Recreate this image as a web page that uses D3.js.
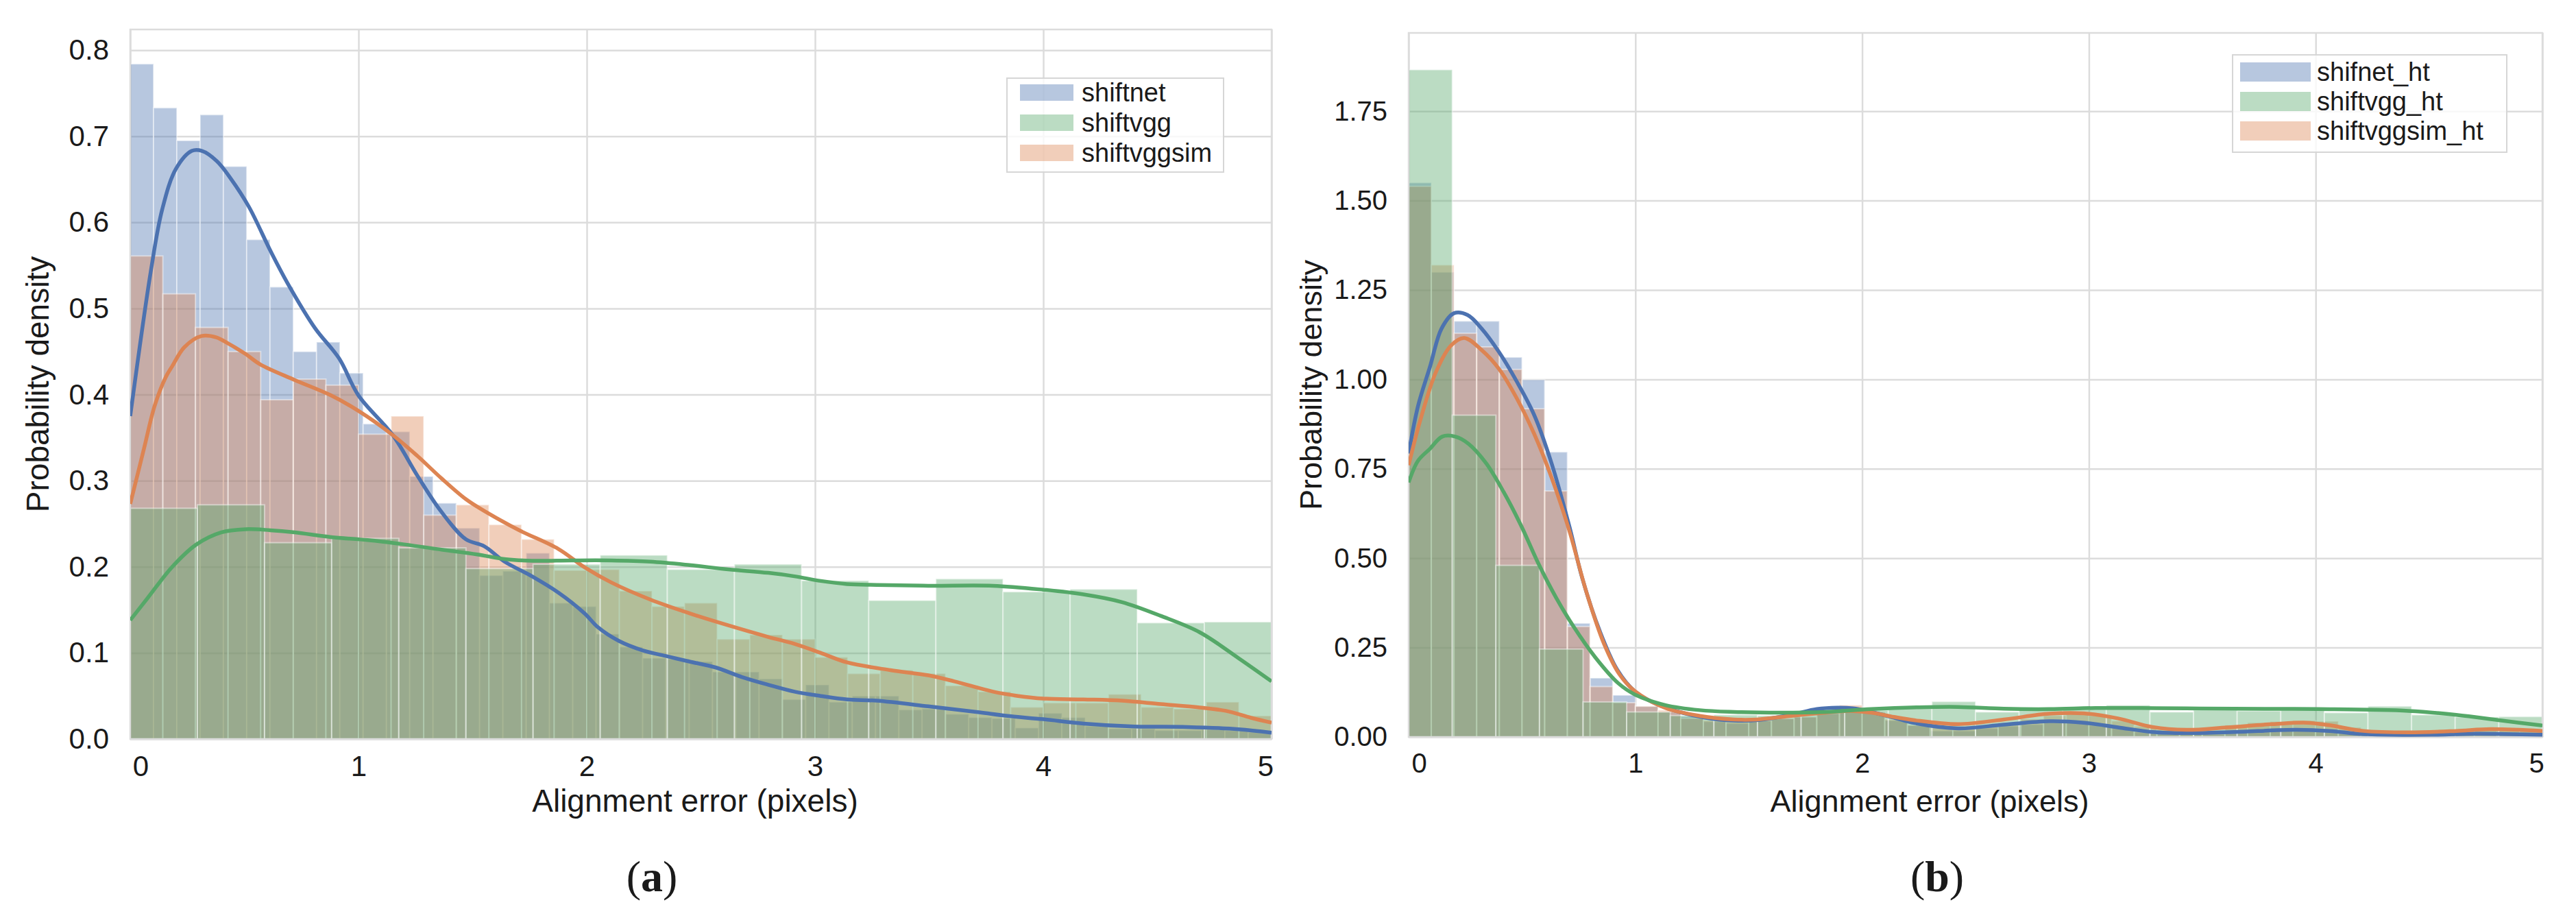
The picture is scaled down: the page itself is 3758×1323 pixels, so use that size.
<!DOCTYPE html>
<html>
<head>
<meta charset="utf-8">
<script src="https://cdn.jsdelivr.net/npm/d3@7"></script>
<style>
body { margin: 0; background: #fff; }
text { font-family: "Liberation Sans", Arial, sans-serif; fill: #1a1a1a; }
.grid line { stroke: #dcdcdc; stroke-width: 2.5; }
.grid path { display: none; }
.ticks path, .ticks line { display: none; }
</style>
</head>
<body>
<div id="chart"></div>
<script>
// series names, colours (seaborn "deep")
const seriesNamesA = ["shiftnet", "shiftvgg", "shiftvggsim"];
const seriesNamesB = ["shifnet_ht", "shiftvgg_ht", "shiftvggsim_ht"];
const colors = ["#4c72b0", "#55a868", "#dd8452"];
// the green histogram sits on top of the orange one in the picture
const drawOrder = [0, 2, 1];

// x range of the histograms and tick values
const xRange = [0, 5];
const xTicks = [0, 1, 2, 3, 4, 5];
const yTicksA = [0.0, 0.1, 0.2, 0.3, 0.4, 0.5, 0.6, 0.7, 0.8];
const yTicksB = [0.0, 0.25, 0.5, 0.75, 1.0, 1.25, 1.5, 1.75];
const yMaxA = 0.824;
const yMaxB = 1.969;

// (a) histogram densities, equal-width bins over [0, 5]
const histA_shiftnet = [0.784, 0.733, 0.695, 0.725, 0.665, 0.58, 0.525, 0.45, 0.461, 0.425,
  0.366, 0.357, 0.305, 0.274, 0.245, 0.19, 0.195, 0.216, 0.158, 0.154,
  0.122, 0.107, 0.094, 0.093, 0.09, 0.078, 0.078, 0.07, 0.046, 0.063,
  0.043, 0.05, 0.05, 0.034, 0.035, 0.029, 0.025, 0.024, 0.013, 0.03,
  0.025, 0.015, 0.012, 0.012, 0.01, 0.01, 0.011, 0.01, 0.008];
const histA_shiftvgg = [0.268, 0.272, 0.228, 0.233, 0.222, 0.198, 0.203, 0.2135, 0.197,
  0.203, 0.184, 0.161, 0.186, 0.171, 0.174, 0.135, 0.136];
const histA_shiftvggsim = [0.561, 0.517, 0.478, 0.45, 0.394, 0.418, 0.411, 0.354, 0.375, 0.26,
  0.272, 0.249, 0.232, 0.196, 0.197, 0.172, 0.154, 0.158, 0.116, 0.121,
  0.116, 0.095, 0.076, 0.08, 0.076, 0.062, 0.055, 0.037, 0.042, 0.042,
  0.052, 0.037, 0.035, 0.043, 0.027];

// (a) kde curves [x, density]
const kdeA_shiftnet = [[0, 0.375], [0.09, 0.543], [0.14, 0.615], [0.2, 0.662], [0.27, 0.683],
  [0.314, 0.683], [0.38, 0.671], [0.44, 0.651], [0.52, 0.618], [0.616, 0.566], [0.69, 0.529],
  [0.81, 0.477], [0.915, 0.442], [1.0, 0.399], [1.15, 0.353], [1.26, 0.305], [1.36, 0.265],
  [1.47, 0.232], [1.55, 0.224], [1.64, 0.206], [1.76, 0.189], [1.876, 0.17], [1.99, 0.146],
  [2.048, 0.13], [2.14, 0.114], [2.244, 0.103], [2.353, 0.096], [2.45, 0.09], [2.566, 0.083],
  [2.68, 0.072], [2.795, 0.063], [2.91, 0.055], [3.025, 0.05], [3.14, 0.046], [3.27, 0.0445],
  [3.496, 0.038], [3.72, 0.031], [3.836, 0.027], [4.0, 0.023], [4.176, 0.018], [4.4, 0.0146],
  [4.63, 0.014], [4.855, 0.0114], [5.0, 0.0074]];
const kdeA_shiftvgg = [[0, 0.138], [0.077, 0.164], [0.184, 0.2], [0.29, 0.226], [0.398, 0.24],
  [0.505, 0.2437], [0.613, 0.2425], [0.72, 0.24], [0.88, 0.2345], [1.04, 0.231], [1.2, 0.226],
  [1.364, 0.22], [1.52, 0.2144], [1.646, 0.2088], [1.761, 0.207], [1.933, 0.2074], [2.106, 0.2074],
  [2.278, 0.206], [2.45, 0.202], [2.62, 0.197], [2.795, 0.193], [2.91, 0.189], [3.025, 0.1836],
  [3.14, 0.18], [3.27, 0.179], [3.496, 0.178], [3.78, 0.178], [4.0, 0.1734], [4.176, 0.168],
  [4.345, 0.159], [4.515, 0.143], [4.685, 0.124], [4.855, 0.094], [5.0, 0.067]];
const kdeA_shiftvggsim = [[0, 0.273], [0.06, 0.337], [0.107, 0.387], [0.155, 0.42], [0.184, 0.433],
  [0.237, 0.455], [0.312, 0.468], [0.377, 0.4665], [0.431, 0.459], [0.506, 0.447], [0.57, 0.435],
  [0.72, 0.417], [0.88, 0.399], [1.0, 0.381], [1.15, 0.353], [1.257, 0.329], [1.364, 0.3026],
  [1.47, 0.2786], [1.55, 0.265], [1.7, 0.243], [1.876, 0.2207], [1.99, 0.1995], [2.106, 0.182],
  [2.278, 0.162], [2.45, 0.146], [2.62, 0.132], [2.795, 0.1186], [2.91, 0.1106], [3.025, 0.1],
  [3.14, 0.089], [3.33, 0.08], [3.496, 0.074], [3.61, 0.067], [3.78, 0.055], [3.89, 0.05],
  [4.0, 0.047], [4.176, 0.046], [4.345, 0.0446], [4.515, 0.0406], [4.685, 0.0367], [4.8, 0.0327],
  [4.91, 0.0247], [5.0, 0.019]];

// (b) histogram densities
const histB_shifnet = [1.55, 1.30, 1.163, 1.163, 1.062, 0.999, 0.797, 0.318, 0.165, 0.117,
  0.086, 0.07, 0.057, 0.043, 0.038, 0.046, 0.051, 0.057, 0.081, 0.075,
  0.068, 0.046, 0.033, 0.017, 0.017, 0.024, 0.03, 0.035, 0.04, 0.046,
  0.033, 0.024, 0.014, 0.011, 0.008, 0.008, 0.017, 0.02, 0.024, 0.024,
  0.022, 0.011, 0.008, 0.008, 0.008, 0.008, 0.008, 0.008, 0.008, 0.008];
const histB_shiftvgg = [1.866, 0.9, 0.48, 0.246, 0.098, 0.07, 0.06, 0.062, 0.06, 0.07,
  0.075, 0.08, 0.099, 0.07, 0.075, 0.078, 0.089, 0.07, 0.075, 0.073,
  0.075, 0.068, 0.086, 0.062, 0.056, 0.057];
const histB_shiftvggsim = [1.54, 1.32, 1.129, 1.091, 1.028, 0.918, 0.688, 0.309, 0.141, 0.096,
  0.086, 0.075, 0.052, 0.046, 0.043, 0.046, 0.052, 0.056, 0.066, 0.089,
  0.07, 0.049, 0.033, 0.03, 0.028, 0.03, 0.04, 0.05, 0.06, 0.065,
  0.06, 0.045, 0.03, 0.02, 0.018, 0.018, 0.033, 0.04, 0.043, 0.046,
  0.044, 0.027, 0.017, 0.014, 0.014, 0.017, 0.02, 0.022, 0.02, 0.017];

// (b) kde curves
const kdeB_shifnet = [[0, 0.793], [0.042, 0.927], [0.094, 1.035], [0.145, 1.142], [0.2, 1.185],
  [0.26, 1.18], [0.322, 1.142], [0.4, 1.075], [0.476, 0.995], [0.554, 0.9], [0.63, 0.766],
  [0.708, 0.591], [0.766, 0.4435], [0.843, 0.296], [0.92, 0.188], [0.997, 0.128], [1.113, 0.087],
  [1.306, 0.054], [1.435, 0.046], [1.55, 0.048], [1.687, 0.062], [1.8, 0.078], [1.89, 0.082],
  [1.96, 0.08], [2.04, 0.07], [2.14, 0.054], [2.23, 0.039], [2.423, 0.024], [2.625, 0.0345],
  [2.826, 0.044], [2.977, 0.04], [3.128, 0.027], [3.28, 0.014], [3.43, 0.011], [3.64, 0.014],
  [3.91, 0.02], [4.06, 0.017], [4.21, 0.008], [4.51, 0.006], [4.71, 0.009], [5.0, 0.006]];
const kdeB_shiftvgg = [[0, 0.712], [0.042, 0.773], [0.094, 0.806], [0.148, 0.84], [0.206, 0.84],
  [0.264, 0.82], [0.341, 0.766], [0.419, 0.685], [0.496, 0.591], [0.573, 0.484], [0.65, 0.39],
  [0.727, 0.309], [0.824, 0.222], [0.925, 0.15], [1.0, 0.118], [1.133, 0.089], [1.284, 0.075],
  [1.435, 0.07], [1.636, 0.068], [1.838, 0.07], [2.04, 0.078], [2.25, 0.083], [2.423, 0.084],
  [2.625, 0.079], [2.826, 0.078], [3.03, 0.081], [3.23, 0.081], [3.43, 0.08], [3.64, 0.079],
  [4.01, 0.078], [4.41, 0.073], [4.62, 0.062], [4.82, 0.046], [5.0, 0.032]];
const kdeB_shiftvggsim = [[0, 0.76], [0.052, 0.887], [0.12, 1.02], [0.187, 1.095], [0.245, 1.116],
  [0.322, 1.082], [0.4, 1.028], [0.476, 0.948], [0.554, 0.847], [0.63, 0.726], [0.708, 0.578],
  [0.785, 0.403], [0.862, 0.26], [0.931, 0.174], [1.0, 0.127], [1.133, 0.081], [1.284, 0.059],
  [1.435, 0.049], [1.536, 0.049], [1.687, 0.059], [1.838, 0.068], [1.94, 0.073], [2.04, 0.068],
  [2.14, 0.056], [2.23, 0.047], [2.423, 0.036], [2.625, 0.049], [2.826, 0.065], [2.977, 0.066],
  [3.128, 0.052], [3.28, 0.028], [3.43, 0.02], [3.61, 0.027], [3.81, 0.036], [3.96, 0.04],
  [4.06, 0.033], [4.21, 0.017], [4.41, 0.013], [4.62, 0.017], [4.77, 0.022], [5.0, 0.017]];

const W = 3758, H = 1323;

const svg = d3.select("#chart")
  .append("svg")
  .attr("width", W)
  .attr("height", H);

const panels = [
  { id: "a", names: seriesNamesA,
    hists: [histA_shiftnet, histA_shiftvgg, histA_shiftvggsim],
    kdes: [kdeA_shiftnet, kdeA_shiftvgg, kdeA_shiftvggsim],
    yTicks: yTicksA, yFmt: ".1f", yMax: yMaxA,
    left: 190, right: 1855, top: 43, bottom: 1078,
    tickSize: 42, labelSize: 46,
    legend: { x: 1469, y: 114, w: 316, h: 137, rows: [21, 65, 109], px: 19, pw: 78, ph: 24, tx: 109 },
    yLabelX: 55, xLabelX: 1014, captionX: 951 },
  { id: "b", names: seriesNamesB,
    hists: [histB_shifnet, histB_shiftvgg, histB_shiftvggsim],
    kdes: [kdeB_shifnet, kdeB_shiftvgg, kdeB_shiftvggsim],
    yTicks: yTicksB, yFmt: ".2f", yMax: yMaxB,
    left: 2055, right: 3709, top: 48, bottom: 1075,
    tickSize: 40, labelSize: 45,
    legend: { x: 3257, y: 80, w: 400, h: 142, rows: [25, 68, 111], px: 11, pw: 103, ph: 28, tx: 123 },
    yLabelX: 1912, xLabelX: 2815, captionX: 2826 }
];

panels.forEach(function(p) {
  const w = p.right - p.left, h = p.bottom - p.top;
  const x = d3.scaleLinear().domain(xRange).range([p.left, p.right]);
  const y = d3.scaleLinear().domain([0, p.yMax]).range([p.bottom, p.top]);
  const g = svg.append("g");

  g.append("clipPath").attr("id", "clip-" + p.id)
    .append("rect").attr("x", p.left).attr("y", p.top).attr("width", w).attr("height", h);

  // grid
  g.append("g").attr("class", "grid")
    .attr("transform", `translate(0,${p.bottom})`)
    .call(d3.axisBottom(x).tickValues(xTicks).tickSize(-h).tickFormat(""));
  g.append("g").attr("class", "grid")
    .attr("transform", `translate(${p.left},0)`)
    .call(d3.axisLeft(y).tickValues(p.yTicks).tickSize(-w).tickFormat(""));

  // histogram bars
  drawOrder.forEach(function(si) {
    const vals = p.hists[si];
    const bw = (xRange[1] - xRange[0]) / vals.length;
    g.append("g")
      .selectAll("rect")
      .data(vals)
      .join("rect")
      .attr("x", (d, i) => x(xRange[0] + i * bw))
      .attr("width", (d, i) => x(xRange[0] + (i + 1) * bw) - x(xRange[0] + i * bw))
      .attr("y", d => y(d))
      .attr("height", d => y(0) - y(d))
      .style("fill", colors[si])
      .style("fill-opacity", 0.4)
      .style("stroke", "#fff")
      .style("stroke-opacity", 0.45)
      .style("stroke-width", 2);
  });

  // frame
  g.append("rect")
    .attr("x", p.left).attr("y", p.top).attr("width", w).attr("height", h)
    .style("fill", "none").style("stroke", "#dcdcdc").style("stroke-width", 2.5);

  // kde lines
  const line = d3.line()
    .x(d => x(d[0]))
    .y(d => y(d[1]))
    .curve(d3.curveCatmullRom.alpha(0.5));
  drawOrder.forEach(function(si) {
    g.append("path")
      .datum(p.kdes[si])
      .attr("clip-path", `url(#clip-${p.id})`)
      .attr("d", line)
      .style("fill", "none")
      .style("stroke", colors[si])
      .style("stroke-width", 5.5)
      .style("stroke-linejoin", "round");
  });

  // tick labels
  const xa = g.append("g").attr("class", "ticks")
    .attr("transform", `translate(0,${p.bottom})`)
    .call(d3.axisBottom(x).tickValues(xTicks).tickSize(0).tickPadding(24).tickFormat(d3.format("d")));
  xa.selectAll("text").style("font-size", p.tickSize + "px").style("font-family", null)
    .attr("dx", d => d === xRange[0] ? 15 : (d === xRange[1] ? -9 : 0));
  const ya = g.append("g").attr("class", "ticks")
    .attr("transform", `translate(${p.left},0)`)
    .call(d3.axisLeft(y).tickValues(p.yTicks).tickSize(0).tickPadding(31).tickFormat(d3.format(p.yFmt)));
  ya.selectAll("text").style("font-size", p.tickSize + "px").style("font-family", null);

  // axis labels
  g.append("text")
    .attr("x", p.xLabelX).attr("y", 1184)
    .attr("text-anchor", "middle")
    .style("font-size", p.labelSize + "px")
    .text("Alignment error (pixels)");
  g.append("text")
    .attr("transform", `translate(${p.yLabelX},${(p.top + p.bottom) / 2}) rotate(-90)`)
    .attr("dy", "0.35em")
    .attr("text-anchor", "middle")
    .style("font-size", p.labelSize + "px")
    .text("Probability density");

  // legend
  const L = p.legend;
  const lg = g.append("g").attr("transform", `translate(${L.x},${L.y})`);
  lg.append("rect").attr("width", L.w).attr("height", L.h)
    .style("fill", "#fff").style("fill-opacity", 0.8)
    .style("stroke", "#d6d6d6").style("stroke-width", 2);
  const rows = lg.selectAll("g.row").data(p.names).join("g")
    .attr("class", "row")
    .attr("transform", (d, i) => `translate(0,${L.rows[i]})`);
  rows.append("rect")
    .attr("x", L.px).attr("y", -L.ph / 2).attr("width", L.pw).attr("height", L.ph)
    .style("fill", (d, i) => colors[i]).style("fill-opacity", 0.4);
  rows.append("text")
    .attr("x", L.tx).attr("dy", "0.35em")
    .style("font-size", "38px")
    .text(d => d);

  // caption
  const cap = g.append("text")
    .attr("x", p.captionX).attr("y", 1300)
    .attr("text-anchor", "middle")
    .style("font-family", "'Liberation Serif', 'DejaVu Serif', serif")
    .style("font-size", "64px");
  cap.append("tspan").text("(");
  cap.append("tspan").style("font-weight", "bold").text(p.id);
  cap.append("tspan").text(")");
});
</script>
</body>
</html>
